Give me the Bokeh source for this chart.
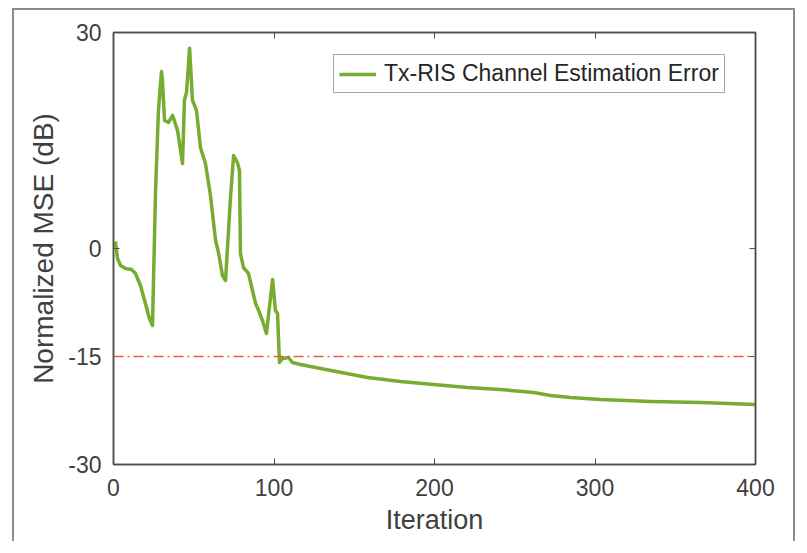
from bokeh.plotting import figure
from bokeh.models import LinearAxis, FixedTicker, Span, Legend, LegendItem, Range1d
from bokeh.embed import file_html
from bokeh.resources import INLINE

iterations = [1.2, 2.5, 4.4, 7.5, 11.2, 13.7, 16.8, 19.9, 22.4, 24.3, 26.2, 28.0, 29.9, 30.5,
              31.8, 34.3, 36.8, 39.9, 43.0, 44.2, 45.5, 47.4, 49.2, 51.7, 54.2, 57.3, 60.4,
              63.6, 65.4, 67.9, 69.8, 72.9, 74.8, 77.3, 78.5, 79.1, 81.0, 84.1, 86.6, 88.5,
              90.4, 92.8, 95.3, 99.1, 100.9, 102.2, 103.4, 105.3, 109.0, 111.5, 116.5, 129.0,
              158.3, 178.8, 199.4, 220.6, 241.1, 261.7, 272.3, 284.8, 303.4, 334.6, 365.8, 400.0]
nmse_db = [0.97, -1.39, -2.36, -2.78, -2.92, -3.47, -5.14, -7.64, -9.72, -10.69, 8.06, 19.2, 24.6, 23.3,
           17.8, 17.5, 18.5, 16.4, 11.8, 20.6, 21.7, 27.8, 20.6, 19.2, 14.0, 11.8, 7.4,
           1.1, -0.56, -3.75, -4.44, 7.1, 12.9, 11.9, 10.8, -0.69, -2.64, -3.47, -5.83, -7.64,
           -8.61, -10.0, -11.81, -4.31, -8.61, -9.03, -15.83, -15.28, -15.14, -15.83, -16.11, -16.67,
           -17.92, -18.47, -18.89, -19.31, -19.58, -20.0, -20.42, -20.69, -20.97, -21.25, -21.39, -21.67]
threshold_db = -15
x_ticks = [0, 100, 200, 300, 400]
y_ticks = [-30, -15, 0, 30]
y_tick_labels = ["-30", "-15", "0", "30"]
legend_label = "Tx-RIS Channel Estimation Error"

FONT = "Liberation Sans"
AX = "#4d4d4d"
TXT = "#404040"

p = figure(width=783, height=533, output_backend="svg", toolbar_location=None,
           x_range=Range1d(0, 400), y_range=Range1d(-30, 30),
           min_border_left=99, min_border_right=42, min_border_top=22, min_border_bottom=79)
p.styles = {"margin-left": "12px", "margin-top": "8px",
            "border-left": "2px solid #8c8c8c",
            "border-top": "2px solid #8c8c8c", "border-right": "2px solid #8c8c8c"}
p.grid.visible = False
p.outline_line_color = AX
p.outline_line_width = 1.5
p.background_fill_color = "white"
p.border_fill_color = "white"

p.xaxis.ticker = FixedTicker(ticks=x_ticks)
p.yaxis.ticker = FixedTicker(ticks=y_ticks)
p.yaxis.major_label_overrides = dict(zip(y_ticks, y_tick_labels))
for ax in (p.xaxis[0], p.yaxis[0]):
    ax.axis_line_color = AX
    ax.axis_line_width = 1.5
    ax.major_tick_in = 6
    ax.major_tick_out = 0
    ax.major_tick_line_color = AX
    ax.minor_tick_line_color = None
    ax.major_label_text_font = FONT
    ax.major_label_text_font_size = "23px"
    ax.major_label_text_color = TXT
    ax.axis_label_text_font = FONT
    ax.axis_label_text_font_style = "normal"
    ax.axis_label_text_color = TXT
p.xaxis.axis_label = "Iteration"
p.yaxis.axis_label = "Normalized MSE (dB)"
p.xaxis.axis_label_text_font_size = "27px"
p.yaxis.axis_label_text_font_size = "28px"
p.xaxis.major_label_standoff = 14
p.yaxis.major_label_standoff = 12
p.xaxis.axis_label_standoff = 6
p.yaxis.axis_label_standoff = 6

top = LinearAxis(ticker=FixedTicker(ticks=x_ticks),
                 major_label_overrides={t: "" for t in x_ticks},
                 major_label_text_font_size="8px",
                 axis_line_color=AX, axis_line_width=1.5, major_tick_in=6, major_tick_out=0,
                 major_tick_line_color=AX, minor_tick_line_color=None, major_label_standoff=0)
right = LinearAxis(ticker=FixedTicker(ticks=y_ticks),
                   major_label_overrides={t: "" for t in y_ticks},
                   major_label_text_font_size="8px",
                   axis_line_color=AX, axis_line_width=1.5, major_tick_in=6, major_tick_out=0,
                   major_tick_line_color=AX, minor_tick_line_color=None, major_label_standoff=0)
p.add_layout(top, "above")
p.add_layout(right, "right")

p.add_layout(Span(location=threshold_db, dimension="width", line_color="#e8603a",
                  line_width=1.5, line_dash="10 4 2 4"))

r = p.line(iterations, nmse_db, line_color="#77ac30", line_width=3.5, line_join="round")

legend = Legend(items=[LegendItem(label=legend_label, renderers=[r])],
                location=(220, 371), orientation="vertical",
                label_text_font=FONT, label_text_font_size="23px", label_text_color="#262626",
                border_line_color=AX, border_line_width=1.5, background_fill_alpha=1,
                glyph_width=37, glyph_height=22, label_height=22, label_standoff=8,
                padding=5, margin=0, spacing=0)
p.add_layout(legend, "center")

open("out.html", "w").write(file_html(p, INLINE))
